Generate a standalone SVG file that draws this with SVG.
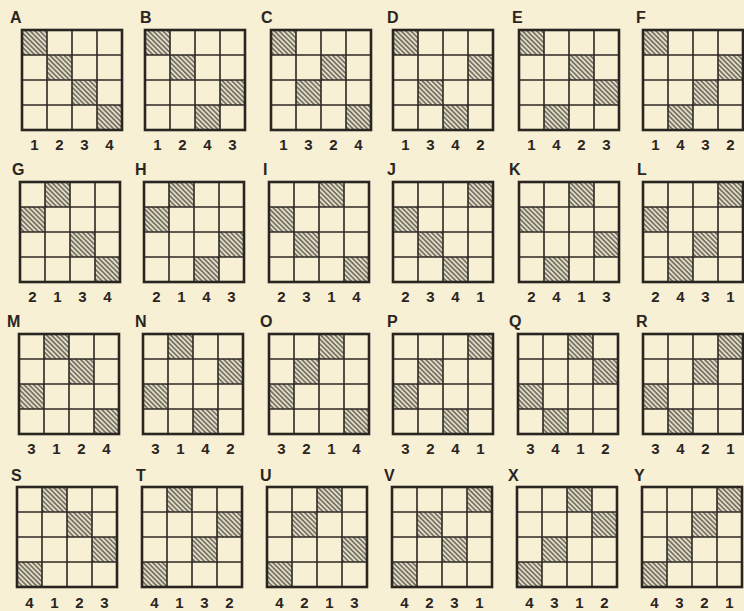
<svg xmlns="http://www.w3.org/2000/svg" xmlns:xlink="http://www.w3.org/1999/xlink" width="744" height="611" viewBox="0 0 744 611">
<style>
.lbl{font-family:"Liberation Sans","DejaVu Sans",sans-serif;font-weight:bold;font-size:16px;fill:#2a2521}
.num{font-family:"Liberation Sans","DejaVu Sans",sans-serif;font-weight:bold;font-size:15px;fill:#2a2521;text-anchor:middle}
.h{fill:url(#hatch)}
.inner{stroke:#2e2924;stroke-width:1.6;fill:none}
.outer{stroke:#2a2521;stroke-width:2.6;fill:none}
</style>
<defs>
<pattern id="hatch" patternUnits="userSpaceOnUse" width="3.4" height="3.4" patternTransform="rotate(45)">
<rect width="3.4" height="3.4" fill="#e2ddc4"/>
<line x1="0" y1="1.7" x2="3.4" y2="1.7" stroke="#4a463f" stroke-width="1.2"/>
</pattern>
<g id="grid">
<path class="inner" d="M25 0V100M50 0V100M75 0V100M0 25H100M0 50H100M0 75H100"/>
<rect class="outer" x="0" y="0" width="100" height="100"/>
</g>
</defs>
<rect width="744" height="611" fill="#f8f0d5"/>

<g id="A" transform="translate(22,30)"><rect class="h" x="0" y="0" width="25" height="25"/><rect class="h" x="25" y="25" width="25" height="25"/><rect class="h" x="50" y="50" width="25" height="25"/><rect class="h" x="75" y="75" width="25" height="25"/><use xlink:href="#grid"/><text class="lbl" x="-12" y="-7">A</text><text class="num" y="120"><tspan x="12.5">1</tspan><tspan x="37.5">2</tspan><tspan x="62.5">3</tspan><tspan x="87.5">4</tspan></text></g>
<g id="B" transform="translate(145,30)"><rect class="h" x="0" y="0" width="25" height="25"/><rect class="h" x="25" y="25" width="25" height="25"/><rect class="h" x="50" y="75" width="25" height="25"/><rect class="h" x="75" y="50" width="25" height="25"/><use xlink:href="#grid"/><text class="lbl" x="-5" y="-7">B</text><text class="num" y="120"><tspan x="12.5">1</tspan><tspan x="37.5">2</tspan><tspan x="62.5">4</tspan><tspan x="87.5">3</tspan></text></g>
<g id="C" transform="translate(271,30)"><rect class="h" x="0" y="0" width="25" height="25"/><rect class="h" x="25" y="50" width="25" height="25"/><rect class="h" x="50" y="25" width="25" height="25"/><rect class="h" x="75" y="75" width="25" height="25"/><use xlink:href="#grid"/><text class="lbl" x="-10" y="-7">C</text><text class="num" y="120"><tspan x="12.5">1</tspan><tspan x="37.5">3</tspan><tspan x="62.5">2</tspan><tspan x="87.5">4</tspan></text></g>
<g id="D" transform="translate(393,30)"><rect class="h" x="0" y="0" width="25" height="25"/><rect class="h" x="25" y="50" width="25" height="25"/><rect class="h" x="50" y="75" width="25" height="25"/><rect class="h" x="75" y="25" width="25" height="25"/><use xlink:href="#grid"/><text class="lbl" x="-6" y="-7">D</text><text class="num" y="120"><tspan x="12.5">1</tspan><tspan x="37.5">3</tspan><tspan x="62.5">4</tspan><tspan x="87.5">2</tspan></text></g>
<g id="E" transform="translate(519,30)"><rect class="h" x="0" y="0" width="25" height="25"/><rect class="h" x="25" y="75" width="25" height="25"/><rect class="h" x="50" y="25" width="25" height="25"/><rect class="h" x="75" y="50" width="25" height="25"/><use xlink:href="#grid"/><text class="lbl" x="-7" y="-7">E</text><text class="num" y="120"><tspan x="12.5">1</tspan><tspan x="37.5">4</tspan><tspan x="62.5">2</tspan><tspan x="87.5">3</tspan></text></g>
<g id="F" transform="translate(643,30)"><rect class="h" x="0" y="0" width="25" height="25"/><rect class="h" x="25" y="75" width="25" height="25"/><rect class="h" x="50" y="50" width="25" height="25"/><rect class="h" x="75" y="25" width="25" height="25"/><use xlink:href="#grid"/><text class="lbl" x="-7" y="-7">F</text><text class="num" y="120"><tspan x="12.5">1</tspan><tspan x="37.5">4</tspan><tspan x="62.5">3</tspan><tspan x="87.5">2</tspan></text></g>

<g id="G" transform="translate(20,182)"><rect class="h" x="0" y="25" width="25" height="25"/><rect class="h" x="25" y="0" width="25" height="25"/><rect class="h" x="50" y="50" width="25" height="25"/><rect class="h" x="75" y="75" width="25" height="25"/><use xlink:href="#grid"/><text class="lbl" x="-8" y="-7">G</text><text class="num" y="120"><tspan x="12.5">2</tspan><tspan x="37.5">1</tspan><tspan x="62.5">3</tspan><tspan x="87.5">4</tspan></text></g>
<g id="H" transform="translate(144,182)"><rect class="h" x="0" y="25" width="25" height="25"/><rect class="h" x="25" y="0" width="25" height="25"/><rect class="h" x="50" y="75" width="25" height="25"/><rect class="h" x="75" y="50" width="25" height="25"/><use xlink:href="#grid"/><text class="lbl" x="-9" y="-7">H</text><text class="num" y="120"><tspan x="12.5">2</tspan><tspan x="37.5">1</tspan><tspan x="62.5">4</tspan><tspan x="87.5">3</tspan></text></g>
<g id="I" transform="translate(269,182)"><rect class="h" x="0" y="25" width="25" height="25"/><rect class="h" x="25" y="50" width="25" height="25"/><rect class="h" x="50" y="0" width="25" height="25"/><rect class="h" x="75" y="75" width="25" height="25"/><use xlink:href="#grid"/><text class="lbl" x="-6" y="-7">I</text><text class="num" y="120"><tspan x="12.5">2</tspan><tspan x="37.5">3</tspan><tspan x="62.5">1</tspan><tspan x="87.5">4</tspan></text></g>
<g id="J" transform="translate(393,182)"><rect class="h" x="0" y="25" width="25" height="25"/><rect class="h" x="25" y="50" width="25" height="25"/><rect class="h" x="50" y="75" width="25" height="25"/><rect class="h" x="75" y="0" width="25" height="25"/><use xlink:href="#grid"/><text class="lbl" x="-6" y="-7">J</text><text class="num" y="120"><tspan x="12.5">2</tspan><tspan x="37.5">3</tspan><tspan x="62.5">4</tspan><tspan x="87.5">1</tspan></text></g>
<g id="K" transform="translate(519,182)"><rect class="h" x="0" y="25" width="25" height="25"/><rect class="h" x="25" y="75" width="25" height="25"/><rect class="h" x="50" y="0" width="25" height="25"/><rect class="h" x="75" y="50" width="25" height="25"/><use xlink:href="#grid"/><text class="lbl" x="-10" y="-7">K</text><text class="num" y="120"><tspan x="12.5">2</tspan><tspan x="37.5">4</tspan><tspan x="62.5">1</tspan><tspan x="87.5">3</tspan></text></g>
<g id="L" transform="translate(643,182)"><rect class="h" x="0" y="25" width="25" height="25"/><rect class="h" x="25" y="75" width="25" height="25"/><rect class="h" x="50" y="50" width="25" height="25"/><rect class="h" x="75" y="0" width="25" height="25"/><use xlink:href="#grid"/><text class="lbl" x="-6" y="-7">L</text><text class="num" y="120"><tspan x="12.5">2</tspan><tspan x="37.5">4</tspan><tspan x="62.5">3</tspan><tspan x="87.5">1</tspan></text></g>

<g id="M" transform="translate(19,334)"><rect class="h" x="0" y="50" width="25" height="25"/><rect class="h" x="25" y="0" width="25" height="25"/><rect class="h" x="50" y="25" width="25" height="25"/><rect class="h" x="75" y="75" width="25" height="25"/><use xlink:href="#grid"/><text class="lbl" x="-12" y="-7">M</text><text class="num" y="120"><tspan x="12.5">3</tspan><tspan x="37.5">1</tspan><tspan x="62.5">2</tspan><tspan x="87.5">4</tspan></text></g>
<g id="N" transform="translate(143,334)"><rect class="h" x="0" y="50" width="25" height="25"/><rect class="h" x="25" y="0" width="25" height="25"/><rect class="h" x="50" y="75" width="25" height="25"/><rect class="h" x="75" y="25" width="25" height="25"/><use xlink:href="#grid"/><text class="lbl" x="-8" y="-7">N</text><text class="num" y="120"><tspan x="12.5">3</tspan><tspan x="37.5">1</tspan><tspan x="62.5">4</tspan><tspan x="87.5">2</tspan></text></g>
<g id="O" transform="translate(269,334)"><rect class="h" x="0" y="50" width="25" height="25"/><rect class="h" x="25" y="25" width="25" height="25"/><rect class="h" x="50" y="0" width="25" height="25"/><rect class="h" x="75" y="75" width="25" height="25"/><use xlink:href="#grid"/><text class="lbl" x="-9" y="-7">O</text><text class="num" y="120"><tspan x="12.5">3</tspan><tspan x="37.5">2</tspan><tspan x="62.5">1</tspan><tspan x="87.5">4</tspan></text></g>
<g id="P" transform="translate(393,334)"><rect class="h" x="0" y="50" width="25" height="25"/><rect class="h" x="25" y="25" width="25" height="25"/><rect class="h" x="50" y="75" width="25" height="25"/><rect class="h" x="75" y="0" width="25" height="25"/><use xlink:href="#grid"/><text class="lbl" x="-6" y="-7">P</text><text class="num" y="120"><tspan x="12.5">3</tspan><tspan x="37.5">2</tspan><tspan x="62.5">4</tspan><tspan x="87.5">1</tspan></text></g>
<g id="Q" transform="translate(518,334)"><rect class="h" x="0" y="50" width="25" height="25"/><rect class="h" x="25" y="75" width="25" height="25"/><rect class="h" x="50" y="0" width="25" height="25"/><rect class="h" x="75" y="25" width="25" height="25"/><use xlink:href="#grid"/><text class="lbl" x="-9" y="-7">Q</text><text class="num" y="120"><tspan x="12.5">3</tspan><tspan x="37.5">4</tspan><tspan x="62.5">1</tspan><tspan x="87.5">2</tspan></text></g>
<g id="R" transform="translate(643,334)"><rect class="h" x="0" y="50" width="25" height="25"/><rect class="h" x="25" y="75" width="25" height="25"/><rect class="h" x="50" y="25" width="25" height="25"/><rect class="h" x="75" y="0" width="25" height="25"/><use xlink:href="#grid"/><text class="lbl" x="-7" y="-7">R</text><text class="num" y="120"><tspan x="12.5">3</tspan><tspan x="37.5">4</tspan><tspan x="62.5">2</tspan><tspan x="87.5">1</tspan></text></g>

<g id="S" transform="translate(17,487)"><rect class="h" x="0" y="75" width="25" height="25"/><rect class="h" x="25" y="0" width="25" height="25"/><rect class="h" x="50" y="25" width="25" height="25"/><rect class="h" x="75" y="50" width="25" height="25"/><use xlink:href="#grid"/><text class="lbl" x="-6" y="-6">S</text><text class="num" y="121"><tspan x="12.5">4</tspan><tspan x="37.5">1</tspan><tspan x="62.5">2</tspan><tspan x="87.5">3</tspan></text></g>
<g id="T" transform="translate(142,487)"><rect class="h" x="0" y="75" width="25" height="25"/><rect class="h" x="25" y="0" width="25" height="25"/><rect class="h" x="50" y="50" width="25" height="25"/><rect class="h" x="75" y="25" width="25" height="25"/><use xlink:href="#grid"/><text class="lbl" x="-6" y="-6">T</text><text class="num" y="121"><tspan x="12.5">4</tspan><tspan x="37.5">1</tspan><tspan x="62.5">3</tspan><tspan x="87.5">2</tspan></text></g>
<g id="U" transform="translate(267,487)"><rect class="h" x="0" y="75" width="25" height="25"/><rect class="h" x="25" y="25" width="25" height="25"/><rect class="h" x="50" y="0" width="25" height="25"/><rect class="h" x="75" y="50" width="25" height="25"/><use xlink:href="#grid"/><text class="lbl" x="-7" y="-6">U</text><text class="num" y="121"><tspan x="12.5">4</tspan><tspan x="37.5">2</tspan><tspan x="62.5">1</tspan><tspan x="87.5">3</tspan></text></g>
<g id="V" transform="translate(392,487)"><rect class="h" x="0" y="75" width="25" height="25"/><rect class="h" x="25" y="25" width="25" height="25"/><rect class="h" x="50" y="50" width="25" height="25"/><rect class="h" x="75" y="0" width="25" height="25"/><use xlink:href="#grid"/><text class="lbl" x="-8" y="-6">V</text><text class="num" y="121"><tspan x="12.5">4</tspan><tspan x="37.5">2</tspan><tspan x="62.5">3</tspan><tspan x="87.5">1</tspan></text></g>
<g id="X" transform="translate(517,487)"><rect class="h" x="0" y="75" width="25" height="25"/><rect class="h" x="25" y="50" width="25" height="25"/><rect class="h" x="50" y="0" width="25" height="25"/><rect class="h" x="75" y="25" width="25" height="25"/><use xlink:href="#grid"/><text class="lbl" x="-9" y="-6">X</text><text class="num" y="121"><tspan x="12.5">4</tspan><tspan x="37.5">3</tspan><tspan x="62.5">1</tspan><tspan x="87.5">2</tspan></text></g>
<g id="Y" transform="translate(642,487)"><rect class="h" x="0" y="75" width="25" height="25"/><rect class="h" x="25" y="50" width="25" height="25"/><rect class="h" x="50" y="25" width="25" height="25"/><rect class="h" x="75" y="0" width="25" height="25"/><use xlink:href="#grid"/><text class="lbl" x="-8" y="-6">Y</text><text class="num" y="121"><tspan x="12.5">4</tspan><tspan x="37.5">3</tspan><tspan x="62.5">2</tspan><tspan x="87.5">1</tspan></text></g>
</svg>
